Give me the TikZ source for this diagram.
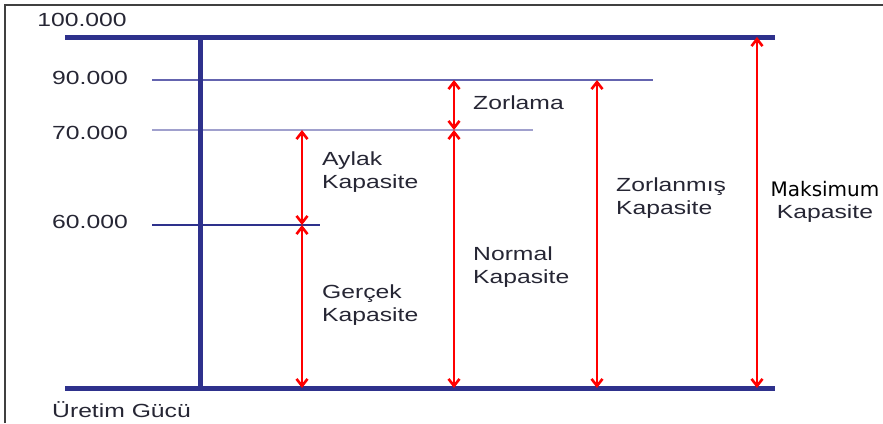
\documentclass[tikz,border=0pt]{standalone}
\usepackage{fontspec}
\setmainfont{Liberation Sans}
\newfontfamily\widefont[FakeStretch=1.3]{Liberation Sans}
\newfontfamily\maksfont{DejaVu Sans}
\usetikzlibrary{arrows.meta,positioning}
\definecolor{navy}{RGB}{46,49,140}
\definecolor{midnavy}{RGB}{100,100,175}
\definecolor{palenavy}{RGB}{160,160,205}
\definecolor{txtgray}{RGB}{38,38,52}

\begin{document}
\begin{tikzpicture}[x=1pt,y=-1pt,
	axis/.style={navy,line width=5pt},
	level/.style={line width=1.8pt},
	span/.style={red,line width=2.6pt,{Straight Barb[length=7pt,width=11pt]}-{Straight Barb[length=7pt,width=11pt]}},
	lbl/.style={font=\widefont\fontsize{19}{23}\selectfont,text=txtgray,align=left,anchor=west,inner sep=0pt},
	num/.style={font=\widefont\fontsize{19}{23}\selectfont,text=txtgray,inner sep=0pt}]
	\useasboundingbox (0,0) rectangle (883,423);
	\draw[black!75,line width=1.5pt] (5,423) -- (5,5) -- (883,5);
	
	% axis ends
	\coordinate (tl) at (65,37);
	\coordinate (tr) at (775,37);
	\coordinate (bl) at (65,388);
	\coordinate (br) at (775,388);
	\coordinate (vtop) at (200,37);
	\coordinate (vbot) at (200,388);
	% levels
	\coordinate (l90a) at (152,80);
	\coordinate (l90b) at (653,80);
	\coordinate (l70a) at (152,130);
	\coordinate (l70b) at (533,130);
	\coordinate (l60a) at (152,225);
	\coordinate (l60b) at (320,225);
	% arrow ends
	\coordinate (ay1) at (302,130);
	\coordinate (ay2) at (302,225);
	\coordinate (ay3) at (302,388);
	\coordinate (zo1) at (454,80);
	\coordinate (zo2) at (454,130);
	\coordinate (zo3) at (454,388);
	\coordinate (zm1) at (597,80);
	\coordinate (zm2) at (597,388);
	\coordinate (mk1) at (757,37);
	\coordinate (mk2) at (757,388);
	
	\draw[level,midnavy] (l90a) -- (l90b);
	\draw[level,palenavy] (l70a) -- (l70b);
	\draw[level,navy] (l60a) -- (l60b);
	\draw[axis] (tl) -- (tr);
	\draw[axis] (bl) -- (br);
	\draw[axis] (vtop) -- (vbot);
	
	\draw[span] (ay1) -- (ay2);
	\draw[span] (ay2) -- (ay3);
	\draw[span] (zo1) -- (zo2);
	\draw[span] (zo2) -- (zo3);
	\draw[span] (zm1) -- (zm2);
	\draw[span] (mk1) -- (mk2);
	
	\node[num] (n100) at (82,20) {100.000};
	\node[num] (n90) at (90,78) {90.000};
	\node[num] (n70) at (90,133) {70.000};
	\node[num] (n60) at (90,222) {60.000};
	\node[lbl] (uretim) at (52,410) {Üretim Gücü};
	
	\node[lbl] (aylak) at (322,172) {Aylak\\Kapasite};
	\node[lbl] (gercek) at (322,305) {Gerçek\\Kapasite};
	\node[lbl] (zorlama) at (473,103) {Zorlama};
	\node[lbl] (normal) at (473,267) {Normal\\Kapasite};
	\node[lbl] (zorlanmis) at (616,198) {Zorlanmış\\Kapasite};
	\node[font=\maksfont\fontsize{20}{24}\selectfont,inner sep=0pt] (maks) at (825,189) {Maksimum};
	\node[num] (makskap) at (825,214) {Kapasite};
\end{tikzpicture}
\end{document}
